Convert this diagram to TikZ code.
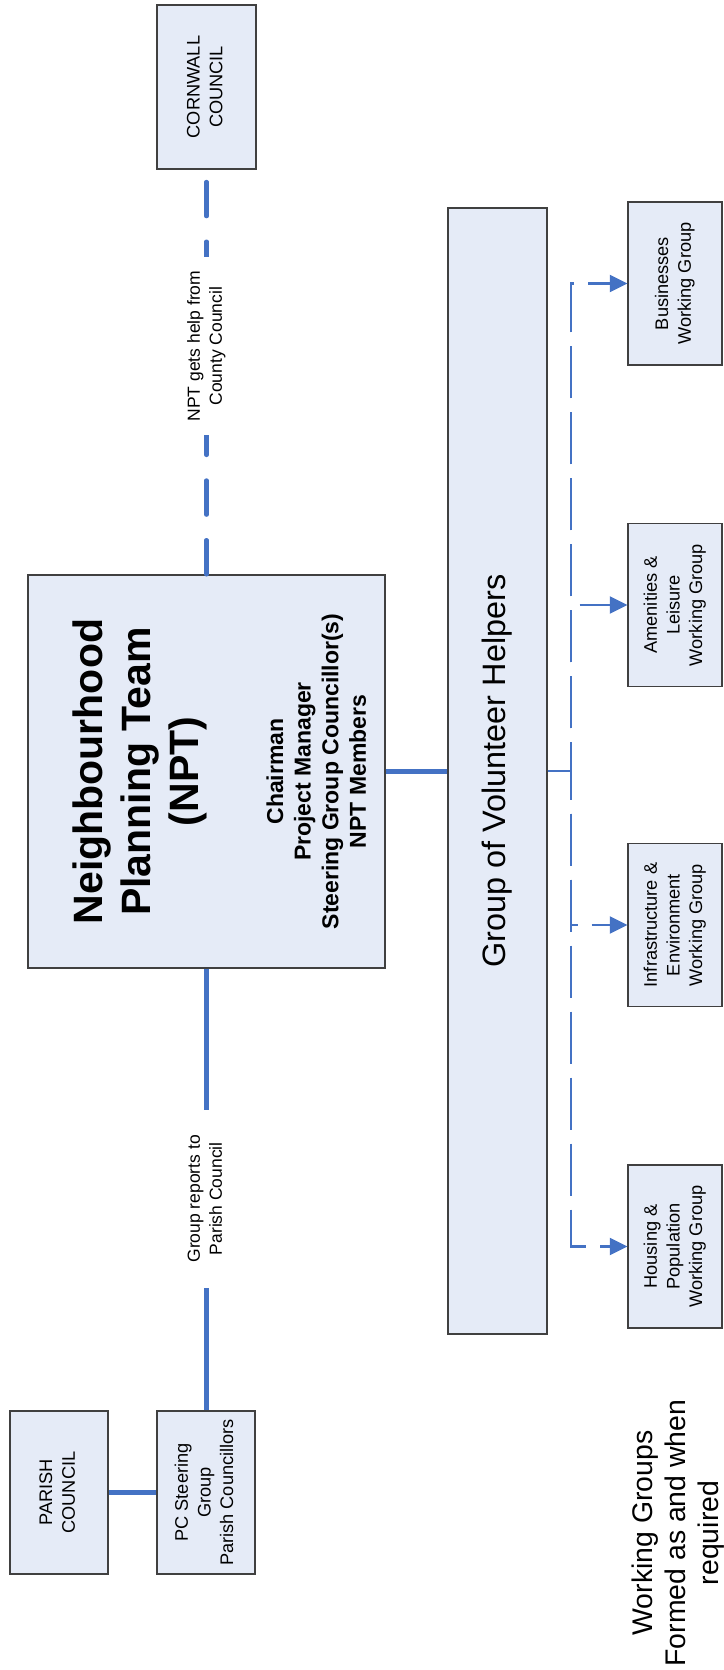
\documentclass[tikz,border=0pt]{standalone}
\usepackage{fontspec}
\setmainfont{Liberation Sans}
\usepackage{graphicx}
\usetikzlibrary{arrows.meta}
\definecolor{lineblue}{HTML}{4472C4}
\definecolor{boxfill}{HTML}{E5EBF7}
\definecolor{boxline}{HTML}{404040}
\newcommand{\rt}[1]{\rotatebox{90}{\begin{tabular}{@{}c@{}}#1\end{tabular}}}
\newcommand{\fboxtext}{\fontsize{9.1pt}{11.3pt}\selectfont}
\newcommand{\fsmall}{\fontsize{8.75pt}{11pt}\selectfont}
\newcommand{\ftitle}{\fontsize{20.5pt}{24pt}\selectfont\bfseries}
\newcommand{\fmembers}{\fontsize{11.5pt}{13.8pt}\selectfont\bfseries}
\newcommand{\fvol}{\fontsize{16.2pt}{19pt}\selectfont}
\newcommand{\fwg}{\fontsize{14.2pt}{16.4pt}\selectfont}
\begin{document}
\begin{tikzpicture}[x=0.5pt,y=-0.5pt,
  box/.style={draw=boxline, line width=0.6pt, fill=boxfill, inner sep=0pt},
  solidlink/.style={draw=lineblue, line width=2.1pt},
  helplink/.style={draw=lineblue, line width=2.1pt, line cap=round, dash pattern=on 17.15pt off 12.7pt},
  wglink/.style={draw=lineblue, line width=1.35pt, dash pattern=on 26pt off 7pt, -{Triangle[length=8.8pt,width=8.4pt]}},
  stublink/.style={draw=lineblue, line width=1.35pt},
  lbl/.style={fill=white, inner xsep=2pt}]
\useasboundingbox (0,0) rectangle (723,1670);

% boxes
\node[box, minimum width=49pt, minimum height=81.5pt] (parish) at (59,1492.5) {\fboxtext\rt{PARISH\\COUNCIL}};
\node[box, minimum width=49pt, minimum height=81.5pt] (pcsg) at (206,1492.5) {\fboxtext\rt{PC Steering\\Group\\Parish Councillors}};
\node[box, minimum width=49.5pt, minimum height=82pt] (cornwall) at (206.5,87) {\fboxtext\rt{CORNWALL\\COUNCIL}};
\node[box, minimum width=178.5pt, minimum height=196.5pt] (npt) at (206.5,771.5) {};
\node (npttitle) at (141,771.5) {\ftitle\rt{Neighbourhood\\Planning Team\\(NPT)}};
\node (nptmembers) at (319,771.5) {\fmembers\rt{Chairman\\Project Manager\\Steering Group Councillor(s)\\NPT Members}};
\node[box, minimum width=49.5pt, minimum height=563pt] (vol) at (497.5,771) {\fvol\rt{Group of Volunteer Helpers}};

\node[box, minimum width=47pt, minimum height=81.5pt] (bus) at (675,283.5) {\fboxtext\rt{Businesses\\Working Group}};
\node[box, minimum width=47pt, minimum height=81.5pt] (ame) at (675,605) {\fboxtext\rt{Amenities \&\\Leisure\\Working Group}};
\node[box, minimum width=47pt, minimum height=81.5pt] (inf) at (675,925) {\fboxtext\rt{Infrastructure \&\\Environment\\Working Group}};
\node[box, minimum width=47pt, minimum height=81.5pt] (hou) at (675,1246.5) {\fboxtext\rt{Housing \&\\Population\\Working Group}};

\node (wgnote) at (679,1533) {\fwg\rt{Working Groups\\Formed as and when\\required}};

% connectors
\draw[solidlink] (parish.east) -- (pcsg.west);
\draw[solidlink] (npt.east) -- (npt.east -| vol.west);
\draw[solidlink] (npt.south) -- node[lbl, inner ysep=12.5pt, pos=0.521] (replbl) {\fsmall\rt{Group reports to\\Parish Council}} (npt.south |- pcsg.north);
\draw[helplink] (npt.north) -- node[lbl, inner ysep=6.75pt, pos=0.564] (helplbl) {\fsmall\rt{NPT gets help from\\County Council}} (npt.north |- cornwall.south);

\coordinate (junc) at (571,771);
\draw[stublink] (vol.east |- junc) -- (junc);
\draw[wglink] (vol.east |- junc) -- (junc) |- (bus.west);
\draw[wglink] (vol.east |- junc) -- (junc) |- (ame.west);
\draw[wglink] (vol.east |- junc) -- (junc) |- (inf.west);
\draw[wglink] (vol.east |- junc) -- (junc) |- (hou.west);
\end{tikzpicture}
\end{document}
